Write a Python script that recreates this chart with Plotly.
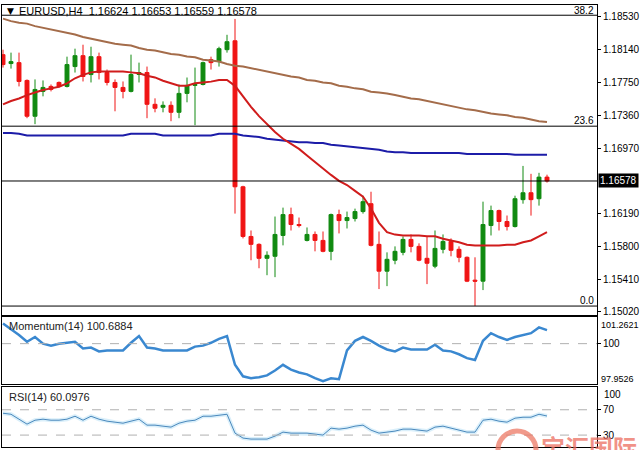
import plotly.graph_objects as go

# ---------------- data ----------------
idx = list(range(69))
opens = [1.18081, 1.17975, 1.17986, 1.17774, 1.17348, 1.17644, 1.17703, 1.17750, 1.17703, 1.17939,
         1.18069, 1.17844, 1.18057, 1.17868, 1.17750, 1.17691, 1.17644, 1.17845, 1.17868, 1.17490,
         1.17455, 1.17478, 1.17395, 1.17620, 1.17715, 1.17726, 1.18022, 1.17998, 1.18140, 1.18246,
         1.16509, 1.15918, 1.15824, 1.15658, 1.15682, 1.15930, 1.16178, 1.16060, 1.15871, 1.15942,
         1.15871, 1.15741, 1.16178, 1.16107, 1.16131, 1.16214, 1.16308, 1.15824, 1.15505, 1.15635,
         1.15729, 1.15883, 1.15800, 1.15658, 1.15564, 1.15765, 1.15859, 1.15765, 1.15670, 1.15398,
         1.15386, 1.16048, 1.16226, 1.16096, 1.16036, 1.16356, 1.16438, 1.16367, 1.16624]
highs = [1.18140, 1.18105, 1.18105, 1.17786, 1.17786, 1.17774, 1.17726, 1.17762, 1.18057, 1.18152,
         1.18199, 1.18175, 1.18105, 1.17904, 1.17786, 1.17762, 1.18081, 1.17986, 1.17939, 1.17561,
         1.17525, 1.17525, 1.17726, 1.17809, 1.17927, 1.17998, 1.18057, 1.18175, 1.18317, 1.18506,
         1.16521, 1.15989, 1.15836, 1.15741, 1.16155, 1.16261, 1.16261, 1.16143, 1.16025, 1.15977,
         1.15977, 1.16190, 1.16237, 1.16214, 1.16249, 1.16403, 1.16450, 1.15977, 1.15729, 1.15800,
         1.15918, 1.15942, 1.15836, 1.15918, 1.15989, 1.15942, 1.15895, 1.15800, 1.15680, 1.15670,
         1.16332, 1.16285, 1.16237, 1.16167, 1.16403, 1.16757, 1.16663, 1.16675, 1.16653]
lows = [1.17927, 1.17915, 1.17703, 1.17325, 1.17254, 1.17585, 1.17644, 1.17691, 1.17691, 1.17868,
        1.17762, 1.17750, 1.17786, 1.17715, 1.17407, 1.17561, 1.17632, 1.17750, 1.17325, 1.17395,
        1.17395, 1.17289, 1.17325, 1.17514, 1.17242, 1.17715, 1.17904, 1.17939, 1.18105, 1.16190,
        1.15895, 1.15635, 1.15540, 1.15457, 1.15434, 1.15812, 1.15989, 1.16025, 1.15859, 1.15741,
        1.15730, 1.15635, 1.15954, 1.16013, 1.16096, 1.16190, 1.15800, 1.15292, 1.15327, 1.15587,
        1.15694, 1.15729, 1.15623, 1.15351, 1.15540, 1.15717, 1.15682, 1.15611, 1.15375, 1.15091,
        1.15280, 1.15930, 1.15989, 1.15989, 1.16025, 1.16308, 1.16166, 1.16285, 1.16559]
closes = [1.17963, 1.17998, 1.17762, 1.17348, 1.17667, 1.17691, 1.17667, 1.17703, 1.17963, 1.18069,
          1.17821, 1.18057, 1.17868, 1.17750, 1.17691, 1.17644, 1.17845, 1.17868, 1.17490, 1.17443,
          1.17478, 1.17395, 1.17620, 1.17715, 1.17726, 1.17986, 1.17986, 1.18152, 1.18235, 1.16509,
          1.15918, 1.15824, 1.15658, 1.15694, 1.15942, 1.16178, 1.16060, 1.16048, 1.15942, 1.15871,
          1.15741, 1.16178, 1.16107, 1.16143, 1.16214, 1.16332, 1.15812, 1.15505, 1.15646, 1.15741,
          1.15883, 1.15800, 1.15635, 1.15599, 1.15776, 1.15859, 1.15753, 1.15670, 1.15386, 1.15386,
          1.16060, 1.16226, 1.16096, 1.16036, 1.16367, 1.16438, 1.16356, 1.16624, 1.16578]

ma_slow = [1.1851, 1.1848, 1.1846, 1.1845, 1.1842, 1.1840, 1.1838, 1.1836, 1.1834, 1.1832,
           1.1829, 1.1827, 1.1825, 1.1823, 1.1821, 1.1820, 1.1819, 1.1816, 1.1814, 1.1813,
           1.1811, 1.1809, 1.1808, 1.1806, 1.1805, 1.1802, 1.1801, 1.1800, 1.1797, 1.1795,
           1.1794, 1.1792, 1.1790, 1.1788, 1.1786, 1.1784, 1.1782, 1.1781, 1.1778, 1.1777,
           1.1775, 1.1774, 1.1771, 1.1770, 1.1768, 1.1767, 1.1764, 1.1763, 1.1762, 1.1760,
           1.1758, 1.1756, 1.1755, 1.1753, 1.1751, 1.1749, 1.1747, 1.1745, 1.1743, 1.1742,
           1.1740, 1.1738, 1.1737, 1.1736, 1.1734, 1.1733, 1.1731, 1.1729, 1.1728]
ma_mid = [1.1715, 1.1715, 1.1714, 1.1712, 1.1712, 1.1712, 1.1712, 1.1712, 1.1712, 1.1712,
          1.1712, 1.1712, 1.1712, 1.1712, 1.1712, 1.1712, 1.1714, 1.1714, 1.1714, 1.1714,
          1.1712, 1.1712, 1.1712, 1.1712, 1.1712, 1.1712, 1.1712, 1.1714, 1.1714, 1.1714,
          1.1712, 1.1711, 1.1710, 1.1708, 1.1707, 1.1706, 1.1705, 1.1704, 1.1704, 1.1703,
          1.1703, 1.1701, 1.1700, 1.1699, 1.1698, 1.1697, 1.1696, 1.1695, 1.1693, 1.1692,
          1.1692, 1.1691, 1.1691, 1.1691, 1.1691, 1.1691, 1.1691, 1.1691, 1.1690, 1.1690,
          1.1690, 1.1690, 1.1690, 1.1690, 1.1689, 1.1689, 1.1689, 1.1689, 1.1689]
ma_fast = [1.1749, 1.1753, 1.1756, 1.1760, 1.1763, 1.1766, 1.1768, 1.1770, 1.1774, 1.1780,
           1.1784, 1.1787, 1.1788, 1.1788, 1.1788, 1.1788, 1.1787, 1.1786, 1.1783, 1.1781,
           1.1777, 1.1774, 1.1771, 1.1771, 1.1774, 1.1775, 1.1776, 1.1778, 1.1778, 1.1771,
           1.1758, 1.1746, 1.1735, 1.1725, 1.1716, 1.1708, 1.1702, 1.1696, 1.1688, 1.1680,
           1.1673, 1.1665, 1.1658, 1.1653, 1.1646, 1.1639, 1.1625, 1.1608, 1.1597, 1.1594,
           1.1593, 1.1593, 1.1593, 1.1592, 1.1592, 1.1589, 1.1587, 1.1585, 1.1582, 1.1581,
           1.1581, 1.1581, 1.1581, 1.1582, 1.1582, 1.1585, 1.1587, 1.1592, 1.1597]

momentum = [101.019, 100.727, 100.435, 100.094, 100.338, 99.997, 99.900, 99.997, 100.045, 100.094,
            99.754, 99.802, 99.608, 99.656, 99.656, 99.656, 100.045, 100.386, 99.802, 99.754,
            99.656, 99.656, 99.656, 99.656, 99.851, 99.900, 100.045, 100.240, 100.386, 98.926,
            98.342, 98.245, 98.294, 98.391, 98.634, 98.926, 98.683, 98.537, 98.440, 98.245,
            98.099, 98.245, 98.196, 99.656, 100.143, 100.338, 100.143, 99.900, 99.705, 99.608,
            99.802, 99.705, 99.705, 99.705, 99.948, 99.656, 99.608, 99.462, 99.267, 99.170,
            100.143, 100.532, 100.338, 100.191, 100.338, 100.435, 100.532, 100.824, 100.6884]
rsi = [64.5, 62.9, 55.1, 47.3, 53.5, 55.1, 53.5, 53.5, 55.1, 59.8,
       53.5, 59.8, 55.1, 52.0, 50.4, 48.8, 52.0, 55.1, 45.7, 45.7,
       44.1, 42.6, 48.8, 52.0, 53.5, 59.8, 59.8, 61.4, 62.9, 33.1,
       25.3, 23.7, 23.7, 23.7, 28.4, 34.7, 33.1, 33.1, 33.1, 31.6,
       30.0, 41.0, 39.4, 41.0, 44.1, 45.7, 37.8, 33.1, 34.7, 36.3,
       39.4, 39.4, 37.8, 36.3, 42.6, 44.1, 41.0, 37.8, 34.7, 34.7,
       53.5, 55.1, 52.0, 50.4, 56.7, 58.2, 58.2, 62.9, 60.0976]

fib_levels = [1.1509, 1.1723, 1.1855]
fib_names = ["0.0", "23.6", "38.2"]
last_price = 1.16578
price_ticks = [1.18530, 1.18140, 1.17750, 1.17360, 1.16970, 1.16190, 1.15800, 1.15410, 1.15020]
mom_max, mom_min, mom_level = 101.2621, 97.9526, 100
rsi_levels = [70, 30]
rsi_top_label = "100"
title_text = "EURUSD,H4  1.16624 1.16653 1.16559 1.16578"

# ---------------- style ----------------
W, H = 640, 450
GREEN = "#108a10"
RED = "#f01414"
FONT = "Liberation Sans"

def px_y(top):  # pixel from top -> paper fraction
    return (H - top) / H

x_dom = [2 / W, 597 / W]
xr = [-0.125, 74.25]
rsi_range = [11.2, 105.3]

fig = go.Figure()

fig.add_trace(go.Candlestick(
    x=idx, open=opens, high=highs, low=lows, close=closes,
    increasing=dict(line=dict(color=GREEN, width=1), fillcolor=GREEN),
    decreasing=dict(line=dict(color=RED, width=1), fillcolor=RED),
    whiskerwidth=0, xaxis="x", yaxis="y", hoverinfo="skip"))

fig.add_trace(go.Scatter(x=idx, y=ma_slow, mode="lines", line=dict(color="#a46c4a", width=2),
                         xaxis="x", yaxis="y"))
fig.add_trace(go.Scatter(x=idx, y=ma_mid, mode="lines", line=dict(color="#1c1ca8", width=2),
                         xaxis="x", yaxis="y"))
fig.add_trace(go.Scatter(x=idx, y=ma_fast, mode="lines", line=dict(color="#d01c1c", width=2),
                         xaxis="x", yaxis="y"))

fig.add_trace(go.Scatter(x=idx, y=momentum, mode="lines", line=dict(color="#3a88d0", width=2.5),
                         xaxis="x2", yaxis="y2"))
fig.add_trace(go.Scatter(x=idx, y=rsi, mode="lines", line=dict(color="rgba(150,210,240,0.35)", width=4),
                         xaxis="x3", yaxis="y3"))
fig.add_trace(go.Scatter(x=idx, y=rsi, mode="lines", line=dict(color="#4a88bc", width=1),
                         xaxis="x3", yaxis="y3"))

axis_common = dict(showline=True, linecolor="black", linewidth=1, mirror=True,
                   showgrid=False, zeroline=False)

shapes = []
for lv in fib_levels:
    shapes.append(dict(type="line", xref="x domain", yref="y", x0=0, x1=1, y0=lv, y1=lv,
                       line=dict(color="black", width=1)))
shapes.append(dict(type="line", xref="x domain", yref="y", x0=0, x1=1, y0=last_price, y1=last_price,
                   line=dict(color="black", width=1)))
shapes.append(dict(type="line", xref="x2 domain", yref="y2", x0=0, x1=1, y0=mom_level, y1=mom_level,
                   line=dict(color="#b0b0b0", width=1, dash="dash")))
for lv in rsi_levels:
    shapes.append(dict(type="line", xref="x3 domain", yref="y3", x0=0, x1=1, y0=lv, y1=lv,
                       line=dict(color="#b0b0b0", width=1, dash="dash")))
# watermark logo ring
shapes.append(dict(type="circle", xref="paper", yref="paper", layer="above",
                   x0=498 / W, x1=536 / W, y0=px_y(472), y1=px_y(434),
                   line=dict(color="rgba(236,120,100,0.75)", width=5)))

ann = []
ann.append(dict(xref="paper", yref="paper", x=5 / W, y=px_y(11), xanchor="left", yanchor="middle",
                text="▼", showarrow=False, font=dict(family="DejaVu Sans", size=9, color="black")))
ann.append(dict(xref="paper", yref="paper", x=17 / W, y=px_y(11), xanchor="left", yanchor="middle",
                text=title_text, showarrow=False, font=dict(family=FONT, size=11, color="black")))
fib_label_y = {"38.2": 11, "23.6": 121, "0.0": 303}
for nm in fib_names:
    ann.append(dict(xref="paper", yref="paper", x=596 / W, y=px_y(fib_label_y[nm]), xanchor="right",
                    yanchor="middle", text=nm, showarrow=False,
                    font=dict(family=FONT, size=10, color="black")))
ann.append(dict(xref="paper", yref="y", x=598 / W, y=last_price, xanchor="left", yanchor="middle",
                text="1.16578", showarrow=False, bgcolor="black", borderpad=1,
                font=dict(family=FONT, size=10, color="white")))
ann.append(dict(xref="paper", yref="paper", x=7 / W, y=px_y(328), xanchor="left", yanchor="middle",
                text="Momentum(14) 100.6884", showarrow=False,
                font=dict(family=FONT, size=11, color="#222")))
ann.append(dict(xref="paper", yref="paper", x=7 / W, y=px_y(400), xanchor="left", yanchor="middle",
                text="RSI(14) 60.0976", showarrow=False, font=dict(family=FONT, size=11, color="#222")))
for txt, yy in [(f"{mom_max:.4f}", 327), (f"{mom_min:.4f}", 382)]:
    ann.append(dict(xref="paper", yref="paper", x=599 / W, y=px_y(yy), xanchor="left", yanchor="middle",
                    text=txt, showarrow=False, font=dict(family=FONT, size=9, color="black")))
# RSI window top caption
ann.append(dict(xref="paper", yref="paper", x=602 / W, y=px_y(397), xanchor="left", yanchor="middle",
                text=rsi_top_label, showarrow=False,
                font=dict(family=FONT, size=10, color="black")))
ann.append(dict(xref="paper", yref="paper", x=539 / W, y=px_y(430), xanchor="left", yanchor="top",
                text="<b>宝汇国际</b>", showarrow=False,
                font=dict(family="Noto Sans CJK SC", size=24, color="rgba(236,110,95,0.75)")))

fig.update_layout(
    width=W, height=H, margin=dict(l=0, r=0, t=0, b=0),
    paper_bgcolor="white", plot_bgcolor="white", showlegend=False,
    font=dict(family=FONT, size=10, color="black"),
    xaxis=dict(domain=x_dom, range=xr, anchor="y", showticklabels=False, ticks="",
               rangeslider=dict(visible=False), **axis_common),
    xaxis2=dict(domain=x_dom, range=xr, anchor="y2", showticklabels=False, ticks="", **axis_common),
    xaxis3=dict(domain=x_dom, range=xr, anchor="y3", showticklabels=False, ticks="", **axis_common),
    yaxis=dict(domain=[px_y(317), px_y(5)], range=[1.14985, 1.18672], side="right", anchor="x",
               tickvals=price_ticks, ticktext=[f"{v:.5f}" for v in price_ticks],
               ticks="outside", ticklen=3, tickcolor="black", **axis_common),
    yaxis2=dict(domain=[px_y(387), px_y(319)], range=[97.93, 101.36], side="right", anchor="x2",
                tickvals=[mom_level], ticktext=["100"], ticks="outside", ticklen=3, tickcolor="black",
                **axis_common),
    yaxis3=dict(domain=[0, px_y(390)], range=rsi_range, side="right", anchor="x3",
                tickvals=rsi_levels, ticktext=[str(v) for v in rsi_levels], ticks="outside", ticklen=3,
                tickcolor="black", **axis_common),
    shapes=shapes, annotations=ann,
)

fig.write_html("out.html")
